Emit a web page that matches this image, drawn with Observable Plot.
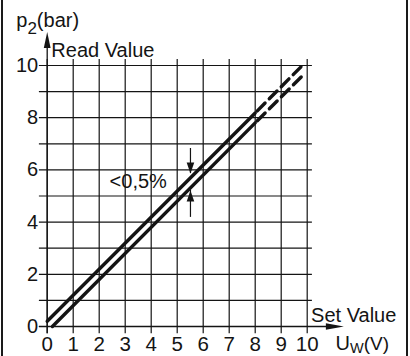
<!DOCTYPE html>
<html><head><meta charset="utf-8">
<script src="https://cdn.jsdelivr.net/npm/d3@7"></script>
<script src="https://cdn.jsdelivr.net/npm/@observablehq/plot@0.6"></script>
<style>
html,body{margin:0;padding:0;background:#fff;}
#wrap{position:relative;width:410px;height:356px;overflow:hidden;background:#fff;}
#wrap svg{position:absolute;left:0;top:0;}
.edge{position:absolute;top:0;width:2px;height:356px;background:#1a1a1a;}
</style></head><body>
<div id="wrap"><div class="edge" style="left:1px"></div><div class="edge" style="left:406px"></div></div>
<script>
// ---- data ----
const xTicks = [0, 1, 2, 3, 4, 5, 6, 7, 8, 9, 10];
const yGrid = [0, 1, 2, 3, 4, 5, 6, 7, 8, 9, 10];
const yTickLabels = [0, 2, 4, 6, 8, 10];

const upperSolidX = [0, 8];
const upperSolidY = [0.2, 8.18];
const lowerSolidX = [0.2, 8];
const lowerSolidY = [0, 7.8];
const upperDashX = [8, 9.85];
const upperDashY = [8.18, 10.04];
const lowerDashX = [8, 9.85];
const lowerDashY = [7.8, 9.64];

const annotX = 5.51;
const annotUpper = [6.82, 5.86]; // from, tip
const annotLower = [4.18, 5.21]; // from, tip

const pts = (xs, ys) => xs.map((x, i) => ({x, y: ys[i]}));

const INK = "#141414";
const FONT = "Liberation Sans, Arial, Helvetica, sans-serif";

const tri = (p) => ({draw(ctx) { ctx.moveTo(p[0][0], p[0][1]); for (let i = 1; i < p.length; i++) ctx.lineTo(p[i][0], p[i][1]); ctx.closePath(); }});
const headUp = tri([[0,0],[-3.4,16],[3.4,16]]);
const headRight = tri([[0,0],[-18,-3.2],[-18,3.2]]);
const smallDown = tri([[0,0],[-3.8,-11],[3.8,-11]]);
const smallUp = tri([[0,0],[-3.8,11],[3.8,11]]);

const txt = (label, x, y, opts = {}) => Plot.text([label], {x: () => x, y: () => y, text: d => d, fontFamily: FONT, fontSize: 20, fill: INK, textAnchor: "start", lineAnchor: "bottom", ...opts});

const plot = Plot.plot({
  width: 410, height: 356,
  marginLeft: 46.7, marginRight: 103.3, marginTop: 65, marginBottom: 30,
  x: {domain: [0, 10], axis: null},
  y: {domain: [0, 10], axis: null},
  style: {fontFamily: FONT, background: "transparent", color: INK},
  marks: [
    Plot.ruleX(xTicks, {x: d => d, y1: -0.28, y2: 10.23, stroke: INK, strokeWidth: 1.2}),
    Plot.ruleY(yGrid, {y: d => d, x1: -0.3, x2: 10.2, stroke: INK, strokeWidth: 1.2}),
    Plot.ruleX([0], {x: d => d, y1: -0.28, y2: 10.8, stroke: INK, strokeWidth: 1.3}),
    Plot.ruleY([0], {y: d => d, x1: -0.3, x2: 10.9, stroke: INK, strokeWidth: 1.3}),
    Plot.dot([0], {x: d => d, y: () => 11.28, symbol: headUp, r: 5, fill: INK, stroke: "none"}),
    Plot.dot([0], {x: () => 11.41, y: d => d, symbol: headRight, r: 5, fill: INK, stroke: "none"}),
    Plot.line(pts(upperSolidX, upperSolidY), {x: "x", y: "y", stroke: INK, strokeWidth: 3.4}),
    Plot.line(pts(lowerSolidX, lowerSolidY), {x: "x", y: "y", stroke: INK, strokeWidth: 3.4}),
    Plot.line(pts(upperDashX, upperDashY), {x: "x", y: "y", stroke: INK, strokeWidth: 3.4, strokeDasharray: "11,6", strokeDashoffset: 14}),
    Plot.line(pts(lowerDashX, lowerDashY), {x: "x", y: "y", stroke: INK, strokeWidth: 3.4, strokeDasharray: "11,6", strokeDashoffset: 14}),
    Plot.ruleX([annotX], {x: d => d, y1: annotUpper[0], y2: annotUpper[1], stroke: INK, strokeWidth: 1.2}),
    Plot.ruleX([annotX], {x: d => d, y1: annotLower[0], y2: annotLower[1], stroke: INK, strokeWidth: 1.2}),
    Plot.dot([annotX], {x: d => d, y: () => annotUpper[1], symbol: smallDown, r: 4, fill: INK, stroke: "none"}),
    Plot.dot([annotX], {x: d => d, y: () => annotLower[1], symbol: smallUp, r: 4, fill: INK, stroke: "none"}),
    Plot.text(xTicks, {x: d => d, y: () => 0, dy: 10, text: d => String(d), lineAnchor: "top", textAnchor: "middle", fontSize: 20.5, fontFamily: FONT, fill: INK}),
    Plot.text(yTickLabels, {x: () => 0, y: d => d, dx: -9, text: d => String(d), lineAnchor: "middle", textAnchor: "end", fontSize: 20, fontFamily: FONT, fill: INK}),
    txt("p2(bar)", -1.19, 11.47),
    txt("Read Value", 0.16, 10.32),
    txt("Set Value", 10.15, 0.165),
    txt("<0,5%", 2.4, 5.29),
    txt("UW(V)", 11.09, -0.9)
  ]
});

// subscripts
d3.select(plot).selectAll("text").each(function() {
  const t = d3.select(this);
  const s = this.textContent;
  if (s === "p2(bar)") {
    t.text("");
    t.append("tspan").text("p");
    t.append("tspan").attr("dy", 6.5).attr("font-size", 17).text("2");
    t.append("tspan").attr("dy", -6.5).text("(bar)");
  } else if (s === "UW(V)") {
    t.text("");
    t.append("tspan").text("U");
    t.append("tspan").attr("dy", 3).attr("font-size", 14.5).text("W");
    t.append("tspan").attr("dy", -3).attr("font-size", 19).text("(V)");
  }
});

const wrap = document.getElementById("wrap");
wrap.insertBefore(plot, wrap.firstChild);
</script>
</body></html>
